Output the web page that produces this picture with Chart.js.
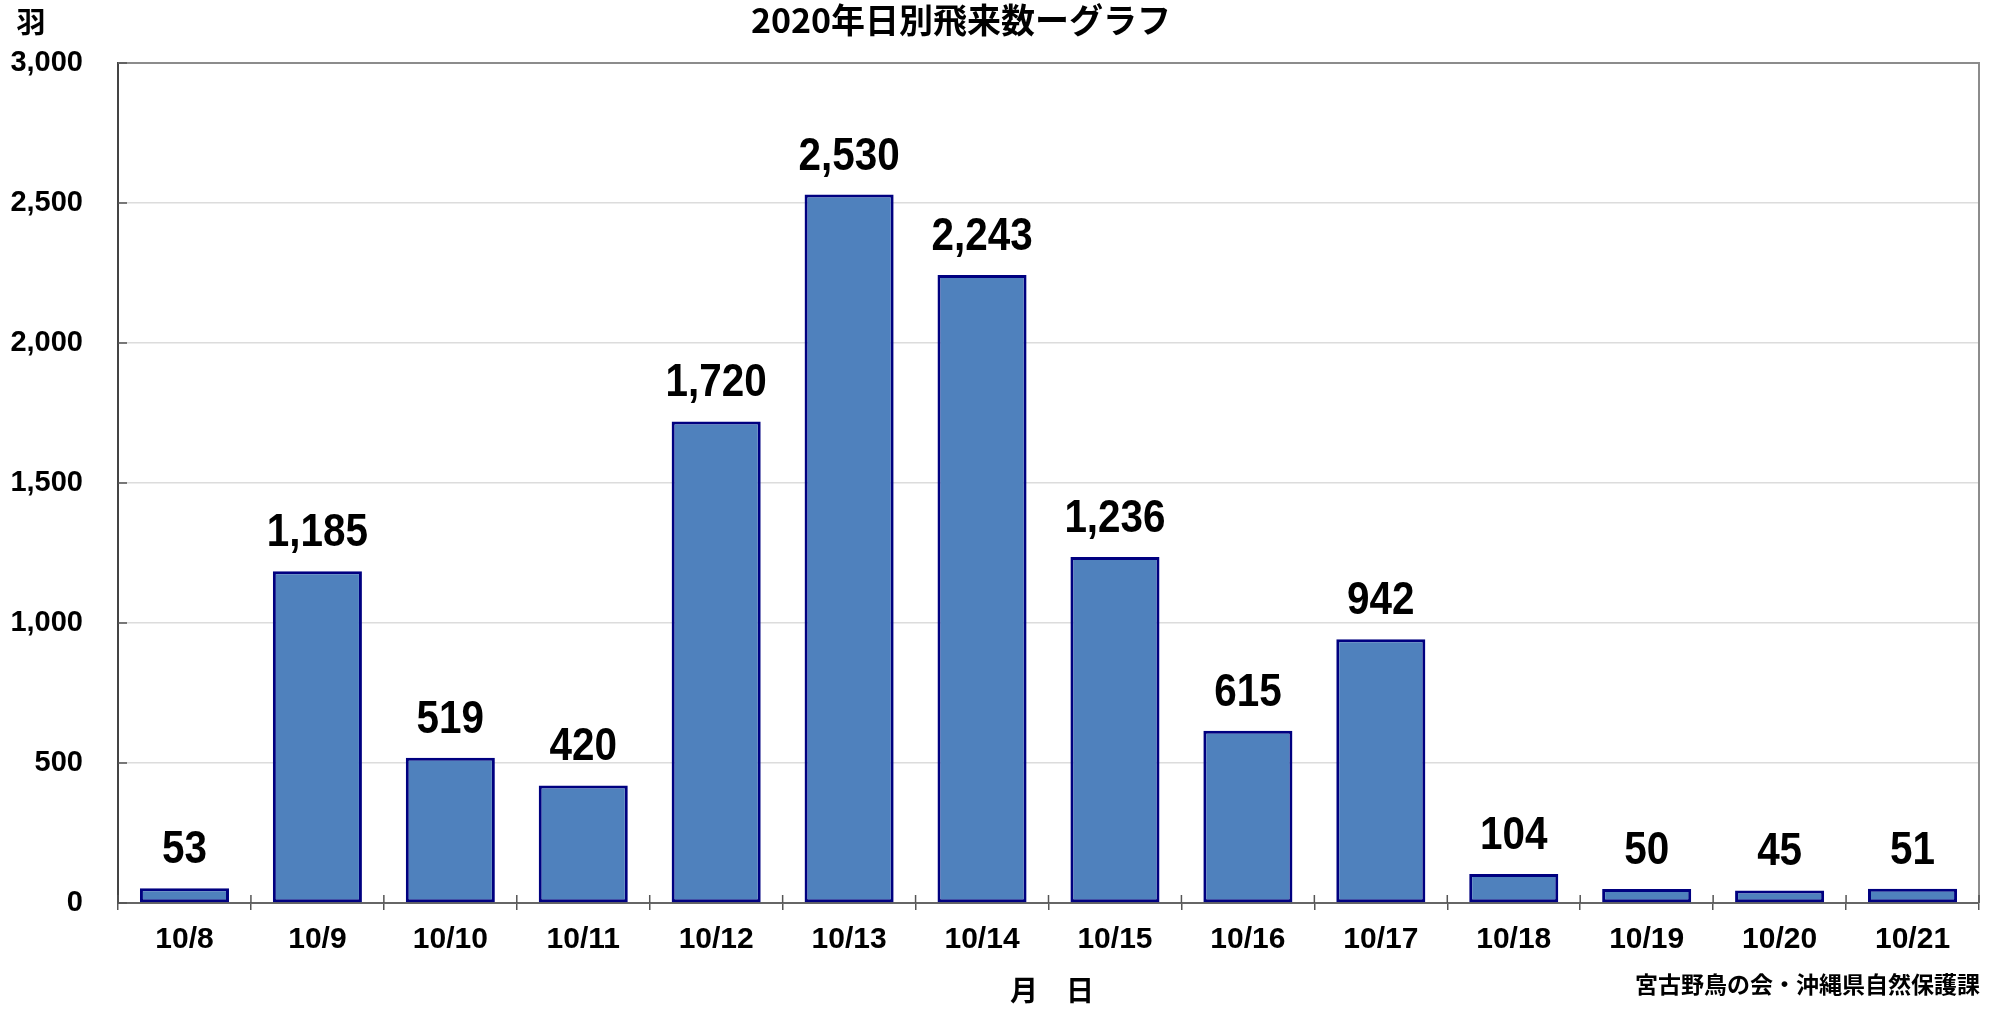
<!DOCTYPE html>
<html>
<head>
<meta charset="utf-8">
<script src="https://cdn.jsdelivr.net/npm/chart.js@4.4.1/dist/chart.umd.min.js"></script>
<style>
  html, body { margin: 0; padding: 0; background: #fff; }
  canvas { display: block; }
</style>
</head>
<body>
<canvas id="chart" width="2004" height="1009"></canvas>
<script>
const days = ['10/8', '10/9', '10/10', '10/11', '10/12', '10/13', '10/14', '10/15', '10/16', '10/17', '10/18', '10/19', '10/20', '10/21'];
const birdCounts = [53, 1185, 519, 420, 1720, 2530, 2243, 1236, 615, 942, 104, 50, 45, 51];
const yTicks = [0, 500, 1000, 1500, 2000, 2500, 3000];

const chartTitle = '2020年日別飛来数ーグラフ';
const unitLabel = '羽';
const xAxisTitle = '月　日';
const sourceNote = '宮古野鳥の会・沖縄県自然保護課';

const numFont = '"Liberation Sans", Arial, sans-serif';
const jpFont = '"Noto Sans CJK JP", sans-serif';

// texts, data labels, frame and inner tick marks
const decorations = {
    id: 'decorations',
    afterDatasetsDraw(chart) {
        const {ctx, chartArea: a, scales} = chart;
        ctx.save();

        // top / right frame
        ctx.strokeStyle = '#8c8c8c';
        ctx.lineWidth = 2;
        ctx.beginPath();
        ctx.moveTo(a.left, a.top);
        ctx.lineTo(a.right, a.top);
        ctx.lineTo(a.right, a.bottom);
        ctx.stroke();

        // inner tick marks on y axis
        ctx.strokeStyle = '#555';
        ctx.lineWidth = 1.5;
        yTicks.forEach(v => {
            const y = scales.y.getPixelForValue(v);
            ctx.beginPath();
            ctx.moveTo(a.left, y);
            ctx.lineTo(a.left + 9, y);
            ctx.stroke();
        });
        // inner part of x tick marks (category borders)
        for (let i = 0; i <= days.length; i++) {
            const x = a.left + (a.right - a.left) * i / days.length;
            ctx.beginPath();
            ctx.moveTo(x, a.bottom - 8);
            ctx.lineTo(x, a.bottom);
            ctx.stroke();
        }

        // value labels
        const meta = chart.getDatasetMeta(0);
        ctx.fillStyle = '#000';
        ctx.textAlign = 'center';
        ctx.textBaseline = 'alphabetic';
        meta.data.forEach((bar, i) => {
            const txt = birdCounts[i].toLocaleString('en-US');
            ctx.save();
            ctx.translate(bar.x, bar.y - 25);
            ctx.scale(0.86, 1);
            ctx.font = 'bold 47px ' + numFont;
            ctx.fillText(txt, 0, 0);
            ctx.restore();
        });

        // title
        ctx.font = 'bold 34px ' + jpFont;
        ctx.textAlign = 'center';
        ctx.textBaseline = 'middle';
        ctx.fillText(chartTitle, 961, 20);

        // unit
        ctx.font = 'bold 29px ' + jpFont;
        ctx.fillText(unitLabel, 31, 22);

        // x axis title
        ctx.font = 'bold 28px ' + jpFont;
        ctx.fillText(xAxisTitle, 1052, 990);

        // source
        ctx.font = 'bold 23px ' + jpFont;
        ctx.textAlign = 'right';
        ctx.fillText(sourceNote, 1980, 984);

        ctx.restore();
    }
};

new Chart(document.getElementById('chart'), {
    type: 'bar',
    data: {
        labels: days,
        datasets: [{
            data: birdCounts,
            backgroundColor: '#4F81BD',
            borderColor: '#000080',
            borderWidth: 3,
            borderSkipped: false,
            barPercentage: 0.67,
            categoryPercentage: 1
        }]
    },
    options: {
        responsive: false,
        animation: false,
        layout: {
            padding: {top: 63, right: 25, left: 0, bottom: 0}
        },
        plugins: {
            legend: {display: false},
            tooltip: {enabled: false},
            title: {display: false}
        },
        scales: {
            x: {
                grid: {
                    offset: true,
                    drawOnChartArea: false,
                    tickLength: 7,
                    color: '#555',
                    lineWidth: 1.5
                },
                border: {color: '#666', width: 2},
                ticks: {
                    color: '#000',
                    padding: 12,
                    font: {family: numFont, size: 30, weight: 'bold'}
                },
                afterFit: (scale) => { scale.height = 106; }
            },
            y: {
                min: 0,
                max: 3000,
                afterBuildTicks: (scale) => {
                    scale.ticks = yTicks.map(v => ({value: v}));
                },
                grid: {
                    color: '#dcdcdc',
                    lineWidth: 1.5,
                    drawTicks: false
                },
                border: {color: '#444', width: 2},
                ticks: {
                    color: '#000',
                    padding: 35,
                    font: {family: numFont, size: 29, weight: 'bold'},
                    callback: (value) => value.toLocaleString('en-US')
                },
                afterFit: (scale) => { scale.width = 118; }
            }
        }
    },
    plugins: [decorations]
});
</script>
</body>
</html>
